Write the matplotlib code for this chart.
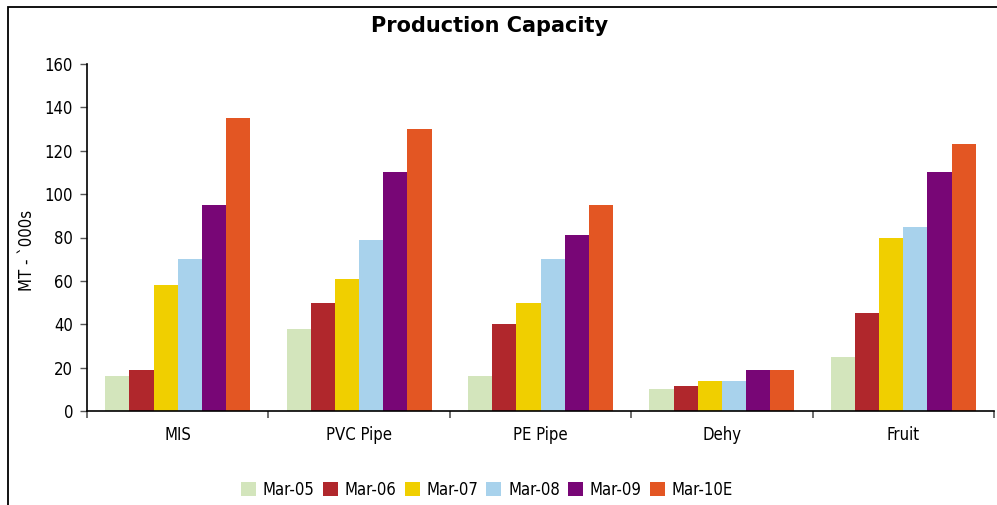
import numpy as np
import matplotlib
matplotlib.use("Agg")
import matplotlib.pyplot as plt
from matplotlib.patches import Rectangle
from matplotlib import font_manager

categories = ["MIS", "PVC Pipe", "PE Pipe", "Dehy", "Fruit"]
periods = ["Mar-05", "Mar-06", "Mar-07", "Mar-08", "Mar-09", "Mar-10E"]
mar05 = [16, 38, 16, 10, 25]
mar06 = [19, 50, 40, 11.5, 45]
mar07 = [58, 61, 50, 14, 80]
mar08 = [70, 79, 70, 14, 85]
mar09 = [95, 110, 81, 19, 110]
mar10e = [135, 130, 95, 19, 123]
y_ticks = [0, 20, 40, 60, 80, 100, 120, 140, 160]

series = [mar05, mar06, mar07, mar08, mar09, mar10e]
colors = ["#d3e5bc", "#b0272c", "#f0cf00", "#a8d2ec", "#780676", "#e35623"]

# condensed face for axis text
fp = font_manager.FontProperties(family="DejaVu Sans", stretch="condensed",
                                 size=12)

fig = plt.figure(figsize=(9.97, 5.05), dpi=100)
fig.patch.set_facecolor("white")
# outer frame (only top and left edges fall inside the canvas)
fig.patches.append(Rectangle((8 / 997, -0.1), 1.1, 1 - 7 / 505 + 0.1,
                             transform=fig.transFigure, fill=False,
                             edgecolor="black", linewidth=1.3))

ax = fig.add_axes([87 / 997, 1 - 411 / 505, (994 - 87) / 997, 347 / 505])
n = len(categories)
x = np.arange(n)
group = 0.8
w = group / len(series)
for i, (vals, c, lab) in enumerate(zip(series, colors, periods)):
    ax.bar(x - group / 2 + w * (i + 0.5), vals, width=w, color=c, label=lab,
           linewidth=0)

ax.set_xlim(-0.5, n - 0.5)
ax.set_ylim(0, 160)
ax.set_yticks(y_ticks)
ax.set_yticklabels([str(t) for t in y_ticks], fontproperties=fp)
ax.set_xticks(x)
ax.set_xticklabels(categories, fontproperties=fp)
ax.set_xticks(np.arange(n + 1) - 0.5, minor=True)
ax.tick_params(axis="x", which="major", length=0, pad=11)
ax.tick_params(axis="x", which="minor", length=5, width=1.2, color="#555555")
ax.tick_params(axis="y", length=5, width=1.0, color="#555555", pad=5)
for s in ["top", "right"]:
    ax.spines[s].set_visible(False)
ax.spines["left"].set_linewidth(1.2)
ax.spines["bottom"].set_linewidth(1.2)

ax.set_ylabel("MT - `000s", fontproperties=fp)
ax.yaxis.set_label_coords((36 - 87) / (994 - 87), (411 - 250) / 347)

fig.text(490 / 997, 1 - 26 / 505, "Production Capacity", ha="center",
         va="center", fontsize=15, fontweight="bold", fontfamily="DejaVu Sans")

leg = fig.legend(loc="center", bbox_to_anchor=(487 / 997, 1 - 490 / 505),
                 ncol=6, frameon=False, prop=fp,
                 handlelength=0.9, handleheight=0.9, handletextpad=0.4,
                 columnspacing=0.5)

fig.savefig("out.png", dpi=100)
